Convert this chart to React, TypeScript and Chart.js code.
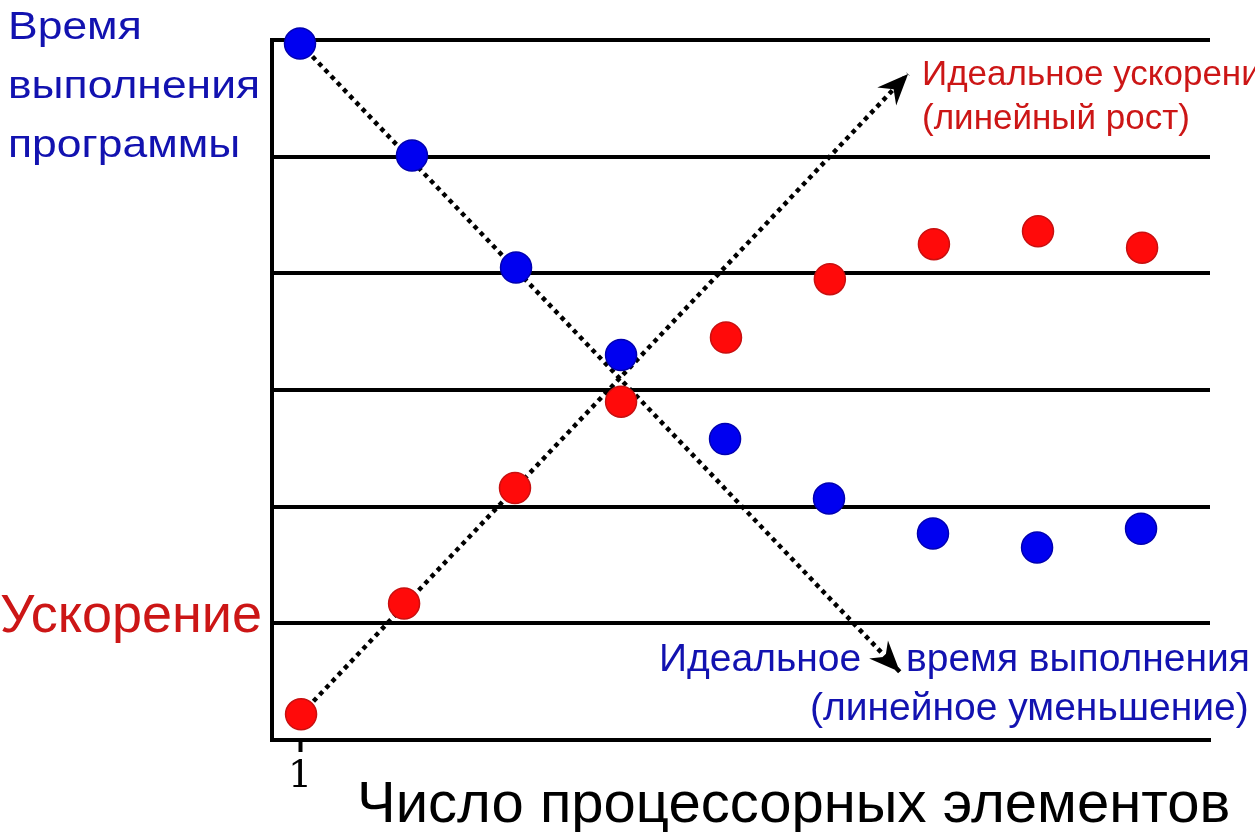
import React, { useEffect, useRef } from "react";
import { Chart, registerables } from "chart.js";

Chart.register(...registerables);

// values (x = number of processing elements)
const timeX = [1.0, 2.065, 3.055, 4.054, 5.043, 6.032, 7.021, 8.011, 9.0];
const timeY = [5.97, 5.01, 4.05, 3.3, 2.58, 2.07, 1.77, 1.65, 1.81];
const speedX = [1.01, 1.99, 3.045, 4.054, 5.052, 6.04, 7.03, 8.02, 9.01];
const speedY = [0.22, 1.17, 2.16, 2.9, 3.45, 3.95, 4.25, 4.36, 4.22];

// ideal lines: start and arrow tip
const idealTimeX = [1.0, 6.707];
const idealTimeY = [5.97, 0.583];
const idealSpeedX = [1.01, 6.784];
const idealSpeedY = [0.22, 5.709];

const xTicks = [1];

const BLUE_TEXT = "#1212b0";
const RED_TEXT = "#cc1616";
const SANS = "'Liberation Sans', Arial, sans-serif";

const toPoints = (xs: number[], ys: number[]) =>
  xs.map((x, i) => ({ x, y: ys[i] }));

// arrow heads at the end of the dotted lines
const arrowPlugin = {
  id: "arrows",
  afterDatasetsDraw(chart: any) {
    const ctx = chart.ctx;
    [0, 1].forEach((idx) => {
      const pts = chart.getDatasetMeta(idx).data;
      if (pts.length < 2) return;
      const tip = pts[pts.length - 1];
      const prev = pts[pts.length - 2];
      const a = Math.atan2(tip.y - prev.y, tip.x - prev.x);
      const L = 31;
      const W = 13;
      const N = 10;
      const dx = Math.cos(a);
      const dy = Math.sin(a);
      ctx.save();
      ctx.fillStyle = "#000";
      ctx.beginPath();
      ctx.moveTo(tip.x, tip.y);
      ctx.lineTo(tip.x - L * dx - W * dy, tip.y - L * dy + W * dx);
      ctx.lineTo(tip.x - (L - N) * dx, tip.y - (L - N) * dy);
      ctx.lineTo(tip.x - L * dx + W * dy, tip.y - L * dy - W * dx);
      ctx.closePath();
      ctx.fill();
      ctx.restore();
    });
  },
};

// labels around the plot
const labelPlugin = {
  id: "labels",
  afterDraw(chart: any) {
    const ctx = chart.ctx;
    const text = (
      s: string,
      x: number,
      y: number,
      size: number,
      color: string,
      stretch = 1
    ) => {
      ctx.save();
      ctx.font = `${size}px ${SANS}`;
      ctx.fillStyle = color;
      ctx.textAlign = "left";
      ctx.textBaseline = "alphabetic";
      ctx.translate(x, y);
      ctx.scale(stretch, 1);
      ctx.fillText(s, 0, 0);
      ctx.restore();
    };
    text("Время", 8, 39, 39, BLUE_TEXT, 1.14);
    text("выполнения", 8, 98, 39, BLUE_TEXT, 1.14);
    text("программы", 8, 157, 39, BLUE_TEXT, 1.14);
    text("Ускорение", 0, 632, 54, RED_TEXT);
    text("Идеальное ускорение", 922, 85, 35, RED_TEXT);
    text("(линейный рост)", 922, 129, 35, RED_TEXT);
    text("Идеальное", 659, 671, 39, BLUE_TEXT);
    text("время выполнения", 906, 671, 39, BLUE_TEXT);
    text("(линейное уменьшение)", 810, 720, 39, BLUE_TEXT);
    text("Число процессорных элементов", 357, 822, 58, "#000");
  },
};

const ChartComponent: React.FC = () => {
  const canvasRef = useRef<HTMLCanvasElement>(null);

  useEffect(() => {
    if (!canvasRef.current) return;

    const chart = new Chart(canvasRef.current, {
      type: "scatter",
      data: {
        datasets: [
          {
            type: "line",
            label: "Идеальное время выполнения",
            data: toPoints(idealTimeX, idealTimeY),
            borderColor: "#000",
            borderWidth: 4.5,
            borderDash: [4.5, 4.5],
            pointRadius: 0,
            clip: false,
            order: 3,
          },
          {
            type: "line",
            label: "Идеальное ускорение",
            data: toPoints(idealSpeedX, idealSpeedY),
            borderColor: "#000",
            borderWidth: 4.5,
            borderDash: [4.5, 4.5],
            pointRadius: 0,
            clip: false,
            order: 3,
          },
          {
            label: "Время выполнения программы",
            data: toPoints(timeX, timeY),
            backgroundColor: "#0000f0",
            borderColor: "#0000b0",
            borderWidth: 1.5,
            pointRadius: 15.5,
            clip: false,
            order: 1,
          },
          {
            label: "Ускорение",
            data: toPoints(speedX, speedY),
            backgroundColor: "#ff0a0a",
            borderColor: "#c81010",
            borderWidth: 1.5,
            pointRadius: 15.5,
            clip: false,
            order: 1,
          },
        ],
      },
      options: {
        animation: false,
        responsive: true,
        maintainAspectRatio: false,
        layout: { padding: { left: 272, top: 40, right: 45, bottom: 0 } },
        plugins: {
          legend: { display: false },
          tooltip: { enabled: false },
        },
        scales: {
          x: {
            type: "linear",
            min: 0.7336,
            max: 9.656,
            afterFit: (scale: any) => {
              scale.height = 92;
            },
            afterBuildTicks: (scale: any) => {
              scale.ticks = xTicks.map((v) => ({ value: v }));
            },
            grid: {
              drawOnChartArea: false,
              drawTicks: true,
              tickLength: 12,
              tickWidth: 4,
              tickColor: "#000",
            },
            border: { color: "#000", width: 4 },
            ticks: {
              color: "#000",
              padding: 2,
              maxRotation: 0,
              font: { family: "'DejaVu Serif', serif", size: 38 },
              callback: (v: any) => String(v),
            },
          },
          y: {
            type: "linear",
            min: 0,
            max: 6,
            afterFit: (scale: any) => {
              scale.width = 0;
            },
            ticks: { display: false, stepSize: 1 },
            grid: { color: "#000", lineWidth: 4, drawTicks: false },
            border: { color: "#000", width: 4 },
          },
        },
      },
      plugins: [arrowPlugin, labelPlugin],
    } as any);

    return () => {
      chart.destroy();
    };
  }, []);

  return <canvas ref={canvasRef} />;
};

export default function App() {
  return (
    <div
      style={{
        position: "fixed",
        left: 0,
        top: 0,
        width: 1255,
        height: 832,
        background: "#fff",
      }}
    >
      <ChartComponent />
    </div>
  );
}
